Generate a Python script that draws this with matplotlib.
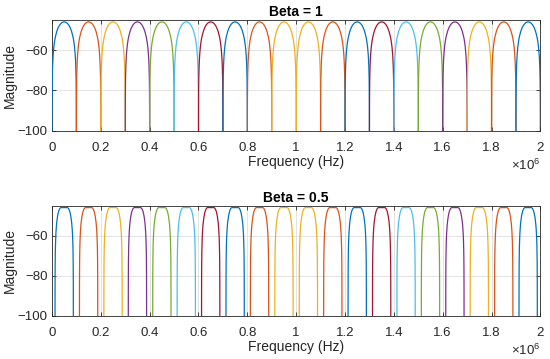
import numpy as np
import matplotlib
matplotlib.use("Agg")
import matplotlib.pyplot as plt

# ---- data ----
band_centers_mhz = [0.05, 0.15, 0.25, 0.35, 0.45, 0.55, 0.65, 0.75, 0.85, 0.95,
                    1.05, 1.15, 1.25, 1.35, 1.45, 1.55, 1.65, 1.75, 1.85, 1.95]
band_color_idx = [0, 1, 2, 3, 4, 5, 6, 0, 1, 2, 2, 1, 0, 6, 5, 4, 3, 2, 1, 0]
peak_db = -46.0

# roll-off profile (normalised position across the roll-off, dB below peak)
rolloff_u = [0, .1, .2, .3, .4, .5, .6, .7, .75, .8, .85, .9, .93, .95, .97,
             .98, .99, .995, .998, 1.0]
rolloff_db = [0, -0.1, -0.4, -1.0, -1.8, -3.0, -4.6, -6.9, -8.3, -10.2, -12.6,
              -16.1, -19.3, -22.1, -26.5, -30.1, -36.1, -42.1, -50.1, -80.0]

# per-panel band geometry (kHz): flat half-width, roll-off width
titles = ["Beta = 1", "Beta = 0.5"]
flat_halfwidth_khz = [0.0, 12.5]
rolloff_width_khz = [50.0, 25.0]

x_ticks_mhz = [0, 0.2, 0.4, 0.6, 0.8, 1.0, 1.2, 1.4, 1.6, 1.8, 2.0]
x_tick_labels = ["0", "0.2", "0.4", "0.6", "0.8", "1", "1.2", "1.4", "1.6", "1.8", "2"]
y_ticks = [-100, -80, -60]
y_lim = (-100, -45.2)

colors = ["#0072BD", "#D95319", "#EDB120", "#7E2F8E", "#77AC30", "#4DBEEE", "#A2142F"]

# ---- plotting ----
plt.rcParams['font.family'] = ['Liberation Sans', 'DejaVu Sans']
plt.rcParams['axes.unicode_minus'] = True
plt.rcParams['mathtext.fontset'] = 'custom'
plt.rcParams['mathtext.rm'] = 'Liberation Sans'
fig = plt.figure(figsize=(5.5, 3.59), dpi=100)
fg = "#262626"
positions = [[0.0945, 0.636, 0.888, 0.3075], [0.0945, 0.1206, 0.888, 0.3056]]

u = np.array(rolloff_u)
d = np.array(rolloff_db)
for p in range(2):
    ax = fig.add_axes(positions[p])
    off = (flat_halfwidth_khz[p] + rolloff_width_khz[p] * u) * 1e3
    x_prof = np.concatenate([-off[::-1], off])
    y_prof = np.concatenate([d[::-1], d]) + peak_db
    for c, ci in zip(band_centers_mhz, band_color_idx):
        ax.plot(c * 1e6 + x_prof, y_prof, color=colors[ci], lw=0.9, zorder=3)
    ax.set_xlim(0, 2e6)
    ax.set_ylim(*y_lim)
    ax.set_xticks([t * 1e6 for t in x_ticks_mhz])
    ax.set_xticklabels(x_tick_labels)
    ax.set_yticks(y_ticks)
    ax.grid(True, color="#dedede", lw=0.6, zorder=0)
    ax.tick_params(direction='in', top=True, right=True, length=3, width=0.6,
                   labelsize=9.5, colors=fg, pad=3)
    ax.tick_params(axis='x', pad=8)
    for s in ax.spines.values():
        s.set_color(fg)
        s.set_linewidth(0.6)
    ax.set_title(titles[p], fontsize=10, fontweight='bold', color='black', pad=3)
    ax.set_xlabel("Frequency (Hz)", fontsize=10, color=fg, labelpad=1)
    ax.set_ylabel("Magnitude", fontsize=10, color=fg, labelpad=1)
    ax.text(1.0, -0.315, r"$\times10^{6}$", transform=ax.transAxes, ha='right',
            va='center', fontsize=9.5, color=fg)

fig.savefig("out.png", dpi=100)
